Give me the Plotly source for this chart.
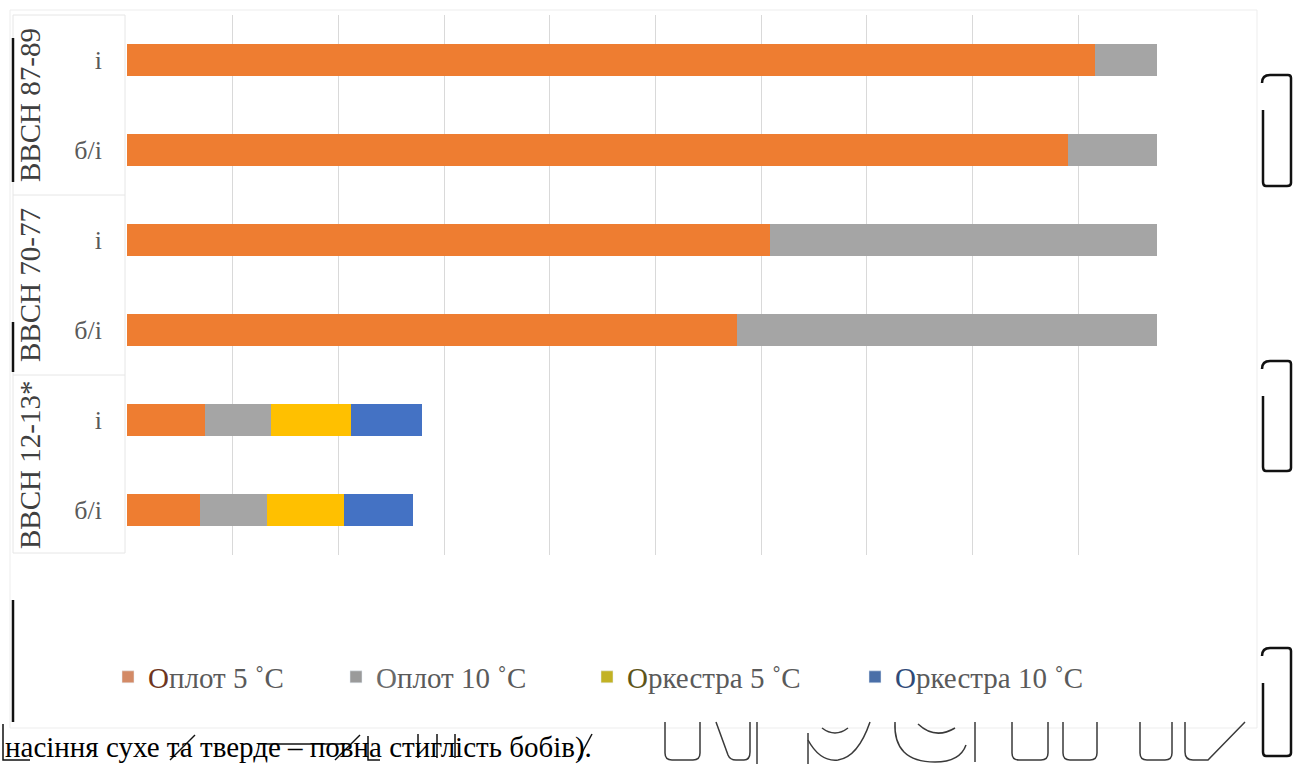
import plotly.graph_objects as go

# ---------------- data ----------------
groups = ["BBCH 87-89", "BBCH 70-77", "BBCH 12-13*"]
row_labels = ["і", "б/і", "і", "б/і", "і", "б/і"]   # top to bottom

oplot5 = [91.6, 89.0, 60.8, 57.7, 7.4, 6.9]
oplot10 = [5.8, 8.4, 36.6, 39.7, 6.2, 6.3]
orkestra5 = [0, 0, 0, 0, 7.6, 7.3]
orkestra10 = [0, 0, 0, 0, 6.7, 6.6]

series_names = ["Оплот 5 ˚C", "Оплот 10 ˚C", "Оркестра 5 ˚C", "Оркестра 10 ˚C"]
series_values = [oplot5, oplot10, orkestra5, orkestra10]
bar_colors = ["#EE7D31", "#A5A5A5", "#FFC000", "#4472C4"]
legend_colors = ["#D38A66", "#9A9A9A", "#C2B224", "#4A6FA8"]
legend_first_colors = ["#6E3520", "#6A6A6A", "#5E5518", "#2F4A78"]

bottom_text = "насіння сухе та тверде – повна стиглість бобів)."

SERIF = "Liberation Serif, Times New Roman, serif"

# ---------------- geometry helpers ----------------
W, H = 1302, 764
PL, PR, PT, PB = 127, 1184, 15, 555   # plot area in pixels


def px(x):
    return (x - PL) / (PR - PL)


def py(y):
    return (PB - y) / (PB - PT)


def P(x, y):
    return f"{px(x)},{py(y)}"


ypos = list(range(len(row_labels)))

fig = go.Figure()
for i, (name, vals) in enumerate(zip(series_names, series_values)):
    fig.add_trace(go.Bar(
        y=ypos, x=vals, orientation="h", width=0.36,
        marker=dict(color=bar_colors[i], line=dict(width=0)),
        showlegend=False, name=name,
    ))
# legend entries (each in own legend for exact placement)
legend_px = [108, 336, 587, 855]
for i, name in enumerate(series_names):
    lname = "legend" if i == 0 else f"legend{i+1}"
    label = (f"<span style='color:{legend_first_colors[i]}'>{name[0]}</span>"
             f"{name[1:]}")
    fig.add_trace(go.Bar(
        y=[None], x=[None], orientation="h", name=label,
        marker=dict(color=legend_colors[i]), showlegend=True, legend=lname,
    ))

legend_common = dict(orientation="h", yanchor="middle", y=py(677),
                     xanchor="left", bgcolor="rgba(0,0,0,0)",
                     font=dict(family=SERIF, size=29, color="#5A5A5A"))
layout_legends = {}
for i in range(4):
    lname = "legend" if i == 0 else f"legend{i+1}"
    layout_legends[lname] = dict(legend_common, x=px(legend_px[i]))

shapes = []
# faint outer chart border
shapes.append(dict(type="rect", xref="paper", yref="paper",
                   x0=px(10), x1=px(1257), y0=py(10), y1=py(728),
                   line=dict(color="#EDEDED", width=1), layer="below"))
# label table box
shapes.append(dict(type="rect", xref="paper", yref="paper",
                   x0=px(13), x1=px(125), y0=py(15), y1=py(553),
                   line=dict(color="#E6E6E6", width=1), layer="below"))
for yy in (195, 375):
    shapes.append(dict(type="line", xref="paper", yref="paper",
                       x0=px(13), x1=px(125), y0=py(yy), y1=py(yy),
                       line=dict(color="#E6E6E6", width=1)))


# scan artefacts: black rounded brackets on the right
def bracket(x0, x1, y0, y1):
    r = 8
    d = (f"M {P(x0, y0 + r)} Q {P(x0, y0)} {P(x0 + r, y0)} "
         f"L {P(x1 - 3, y0)} Q {P(x1, y0)} {P(x1, y0 + 3)} "
         f"L {P(x1, y1 - 3)} Q {P(x1, y1)} {P(x1 - 4, y1)} "
         f"L {P(x0 + 4, y1)} Q {P(x0 + 1, y1)} {P(x0 + 1, y1 - 4)} "
         f"L {P(x0 + 1, y0 + 35)}")
    return dict(type="path", xref="paper", yref="paper", path=d,
                line=dict(color="#111111", width=2.5))


for (a, b) in [(75, 186), (361, 471), (648, 756)]:
    shapes.append(bracket(1262, 1291, a, b))

# left partial marks
for (a, b) in [(38, 182), (322, 372), (600, 722)]:
    shapes.append(dict(type="line", xref="paper", yref="paper",
                       x0=px(13), x1=px(13), y0=py(a), y1=py(b),
                       line=dict(color="#111111", width=2.5)))


# scan artefacts: outlines of large letters at the bottom right
def U(x0, x1, y0=722, y1=760, r=7):
    return (f"M {P(x0, y0)} L {P(x0, y1 - r)} Q {P(x0, y1)} {P(x0 + r, y1)} "
            f"L {P(x1 - r, y1)} Q {P(x1, y1)} {P(x1, y1 - r)} L {P(x1, y0)}")


outline_paths = [
    U(665, 700),
    f"M {P(716, 722)} L {P(728, 755)} Q {P(730, 760)} {P(736, 760)} "
    f"L {P(744, 760)} Q {P(750, 760)} {P(750, 752)} L {P(750, 722)}",
    f"M {P(757, 722)} L {P(757, 764)}",
    f"M {P(808, 733)} L {P(808, 764)}",
    f"M {P(808, 740)} Q {P(820, 762)} {P(838, 760)} Q {P(858, 757)} {P(870, 722)}",
    f"M {P(822, 728)} Q {P(835, 738)} {P(848, 728)}",
    f"M {P(895, 722)} Q {P(893, 762)} {P(935, 762)} Q {P(960, 762)} {P(966, 745)}",
    f"M {P(918, 724)} Q {P(935, 740)} {P(955, 728)}",
    f"M {P(975, 722)} L {P(975, 762)}",
    U(1012, 1048),
    U(1063, 1097),
    U(1140, 1172),
    f"M {P(1185, 722)} L {P(1185, 752)} Q {P(1185, 760)} {P(1193, 760)} "
    f"L {P(1208, 760)} L {P(1245, 722)}",
]
for d in outline_paths:
    shapes.append(dict(type="path", xref="paper", yref="paper", path=d,
                       line=dict(color="#3A3A3A", width=1.5)))

# strike marks over the bottom text
strike_paths = [
    f"M {P(3, 724)} L {P(3, 760)} L {P(30, 760)}",
    f"M {P(170, 760)} L {P(195, 735)}",
    f"M {P(258, 744)} L {P(345, 744)}",
    f"M {P(335, 760)} L {P(360, 735)}",
    f"M {P(368, 736)} L {P(368, 760)} L {P(380, 760)}",
    f"M {P(418, 734)} L {P(418, 758)}",
    f"M {P(437, 734)} L {P(437, 758)}",
    f"M {P(455, 734)} L {P(455, 758)}",
    f"M {P(578, 760)} L {P(592, 734)}",
]
for d in strike_paths:
    shapes.append(dict(type="path", xref="paper", yref="paper", path=d,
                       line=dict(color="#111111", width=1.5)))

annotations = []
for gi, g in enumerate(groups):
    ymid = (15 + 180 * gi + 15 + 180 * (gi + 1)) / 2
    annotations.append(dict(text=g, xref="paper", yref="paper",
                            x=px(30), y=py(ymid), textangle=-90,
                            showarrow=False, xanchor="center", yanchor="middle",
                            font=dict(family=SERIF, size=29, color="#404040")))
annotations.append(dict(text=bottom_text, xref="paper", yref="paper",
                        x=px(3), y=py(766), xanchor="left", yanchor="bottom",
                        showarrow=False,
                        font=dict(family=SERIF, size=29, color="#000000")))

fig.update_layout(
    width=W, height=H,
    margin=dict(l=PL, r=W - PR, t=PT, b=H - PB, pad=0),
    paper_bgcolor="white", plot_bgcolor="white",
    barmode="stack", bargap=0,
    xaxis=dict(range=[0, 100], dtick=10, showgrid=True, gridcolor="#D9D9D9",
               gridwidth=1, showticklabels=False, zeroline=False,
               showline=False, ticks=""),
    yaxis=dict(range=[len(row_labels) - 0.5, -0.5], tickmode="array",
               tickvals=ypos, ticktext=row_labels, showgrid=False,
               zeroline=False, showline=False, ticks="",
               ticklabelstandoff=24,
               tickfont=dict(family=SERIF, size=26, color="#595959")),
    shapes=shapes, annotations=annotations,
    **layout_legends,
)

fig.write_html("out.html")
